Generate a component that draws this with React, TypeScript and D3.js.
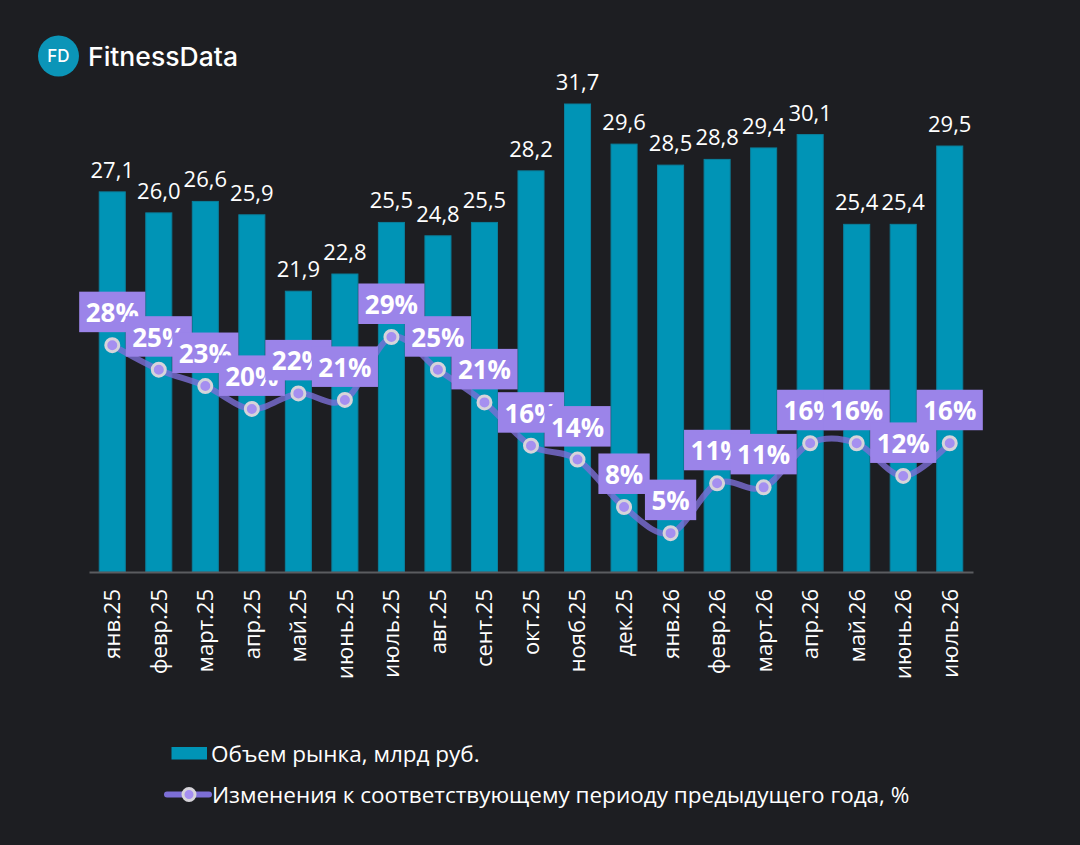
import React, { useEffect, useRef } from "react";
import * as d3 from "d3";

const categories = [
  "янв.25", "февр.25", "март.25", "апр.25", "май.25", "июнь.25", "июль.25",
  "авг.25", "сент.25", "окт.25", "нояб.25", "дек.25", "янв.26", "февр.26",
  "март.26", "апр.26", "май.26", "июнь.26", "июль.26",
];
const volume = [27.1, 26.0, 26.6, 25.9, 21.9, 22.8, 25.5, 24.8, 25.5, 28.2, 31.7, 29.6, 28.5, 28.8, 29.4, 30.1, 25.4, 25.4, 29.5];
const change = [28, 25, 23, 20.2, 22.1, 21.3, 29, 25, 21, 15.7, 14, 8.2, 5, 11.1, 10.6, 16, 16, 12, 16];

const legendBar = "Объем рынка, млрд руб.";
const legendLine = "Изменения к соответствующему периоду предыдущего года, %";

const W = 1080;
const H = 845;
const BG = "#1d1e22";
const BAR = "#0094b6";
const BAR_STROKE = "#0a7f9c";
const PURPLE_BOX = "#9b84e9";
const LINE = "#7c6ed6";
const FONT = "'Open Sans', 'Noto Sans', sans-serif";

export default function App() {
  const ref = useRef<SVGSVGElement>(null);

  useEffect(() => {
    const svg = d3.select(ref.current);
    svg.selectAll("*").remove();

    svg.append("rect").attr("width", W).attr("height", H).attr("fill", BG);

    // Logo
    const logo = svg.append("g");
    logo.append("circle").attr("cx", 58.5).attr("cy", 56).attr("r", 20.5).attr("fill", "#0b95b8");
    logo.append("text").attr("x", 58.5).attr("y", 62).attr("text-anchor", "middle")
      .attr("fill", "#fff").attr("font-family", "Inter, sans-serif").attr("font-size", 17)
      .attr("font-weight", 500).text("FD");
    logo.append("text").attr("x", 88).attr("y", 66)
      .attr("fill", "#fff").attr("font-family", "Inter, sans-serif").attr("font-size", 26)
      .attr("font-weight", 500).attr("textLength", 150).attr("lengthAdjust", "spacingAndGlyphs")
      .text("FitnessData");

    const x = d3.scaleBand<string>().domain(categories).range([89, 973]).paddingInner(0.44).paddingOuter(0.22);
    const yBar = d3.scaleLinear().domain([7.2, 31.7]).range([572, 104]);
    const yLine = d3.scaleLinear().domain([0, 29]).range([574, 337]);

    // Bars
    svg.append("g").selectAll("rect").data(volume).join("rect")
      .attr("x", (_, i) => x(categories[i])!)
      .attr("y", (d) => yBar(d))
      .attr("width", x.bandwidth())
      .attr("height", (d) => 572 - yBar(d))
      .attr("fill", BAR)
      .attr("stroke", BAR_STROKE)
      .attr("stroke-width", 1);

    // Bar labels
    svg.append("g").selectAll("text").data(volume).join("text")
      .attr("x", (_, i) => x(categories[i])! + x.bandwidth() / 2)
      .attr("y", (d) => yBar(d) - 14)
      .attr("text-anchor", "middle")
      .attr("fill", "#fff")
      .attr("font-family", FONT)
      .attr("font-size", 22)
      .text((d) => d.toFixed(1).replace(".", ","));

    // Axis
    const axis = svg.append("g").attr("transform", "translate(0,572)")
      .call(d3.axisBottom(x).tickSize(0).tickPadding(0));
    axis.select(".domain").attr("stroke", "#5b5c60").attr("stroke-width", 2);
    axis.selectAll(".tick text")
      .attr("fill", "#fff")
      .attr("font-family", FONT)
      .attr("font-size", 22)
      .attr("text-anchor", "end")
      .attr("transform", "rotate(-90)")
      .attr("x", -17)
      .attr("y", 0)
      .attr("dy", "0.36em");

    // Line
    const cx = (i: number) => x(categories[i])! + x.bandwidth() / 2;
    const line = d3.line<number>()
      .x((_, i) => cx(i))
      .y((d) => yLine(d))
      .curve(d3.curveCardinal.tension(0));
    svg.append("path").datum(change)
      .attr("d", line)
      .attr("fill", "none")
      .attr("stroke", LINE)
      .attr("stroke-width", 6)
      .attr("stroke-opacity", 0.8);

    svg.append("g").selectAll("circle").data(change).join("circle")
      .attr("cx", (_, i) => cx(i))
      .attr("cy", (d) => yLine(d))
      .attr("r", 6.5)
      .attr("fill", "#a58ff0")
      .attr("stroke", "#d6d4da")
      .attr("stroke-width", 3);

    // Line labels
    const lg = svg.append("g");
    change.forEach((v, i) => {
      const g = lg.append("g");
      const px = cx(i);
      const py = yLine(v);
      const rect = g.append("rect");
      const t = g.append("text")
        .attr("x", px)
        .attr("y", py - 23)
        .attr("text-anchor", "middle")
        .attr("fill", "#fff")
        .attr("font-family", FONT)
        .attr("font-size", 26)
        .attr("font-weight", 700)
        .text(`${Math.round(v)}%`);
      const tw = (t.node() as SVGTextElement).getComputedTextLength();
      const bw = tw + 13;
      rect.attr("x", px - bw / 2).attr("y", py - 53.5).attr("width", bw).attr("height", 40.5)
        .attr("fill", PURPLE_BOX);
    });

    // Legend
    const leg = svg.append("g");
    leg.append("rect").attr("x", 171.5).attr("y", 747).attr("width", 35.5).attr("height", 12.5).attr("fill", BAR);
    leg.append("text").attr("x", 211).attr("y", 761.5).attr("fill", "#fff")
      .attr("font-family", FONT).attr("font-size", 22.5).text(legendBar);
    leg.append("line").attr("x1", 167).attr("x2", 209).attr("y1", 794.5).attr("y2", 794.5)
      .attr("stroke", LINE).attr("stroke-width", 6).attr("stroke-linecap", "round");
    leg.append("circle").attr("cx", 189).attr("cy", 794.5).attr("r", 6)
      .attr("fill", "#a58ff0").attr("stroke", "#d6d4da").attr("stroke-width", 3);
    leg.append("text").attr("x", 212).attr("y", 803).attr("fill", "#fff")
      .attr("font-family", FONT).attr("font-size", 22.5).text(legendLine);
  }, []);

  return (
    <svg
      ref={ref}
      width={W}
      height={H}
      style={{ position: "absolute", left: 0, top: 0, display: "block" }}
    />
  );
}
